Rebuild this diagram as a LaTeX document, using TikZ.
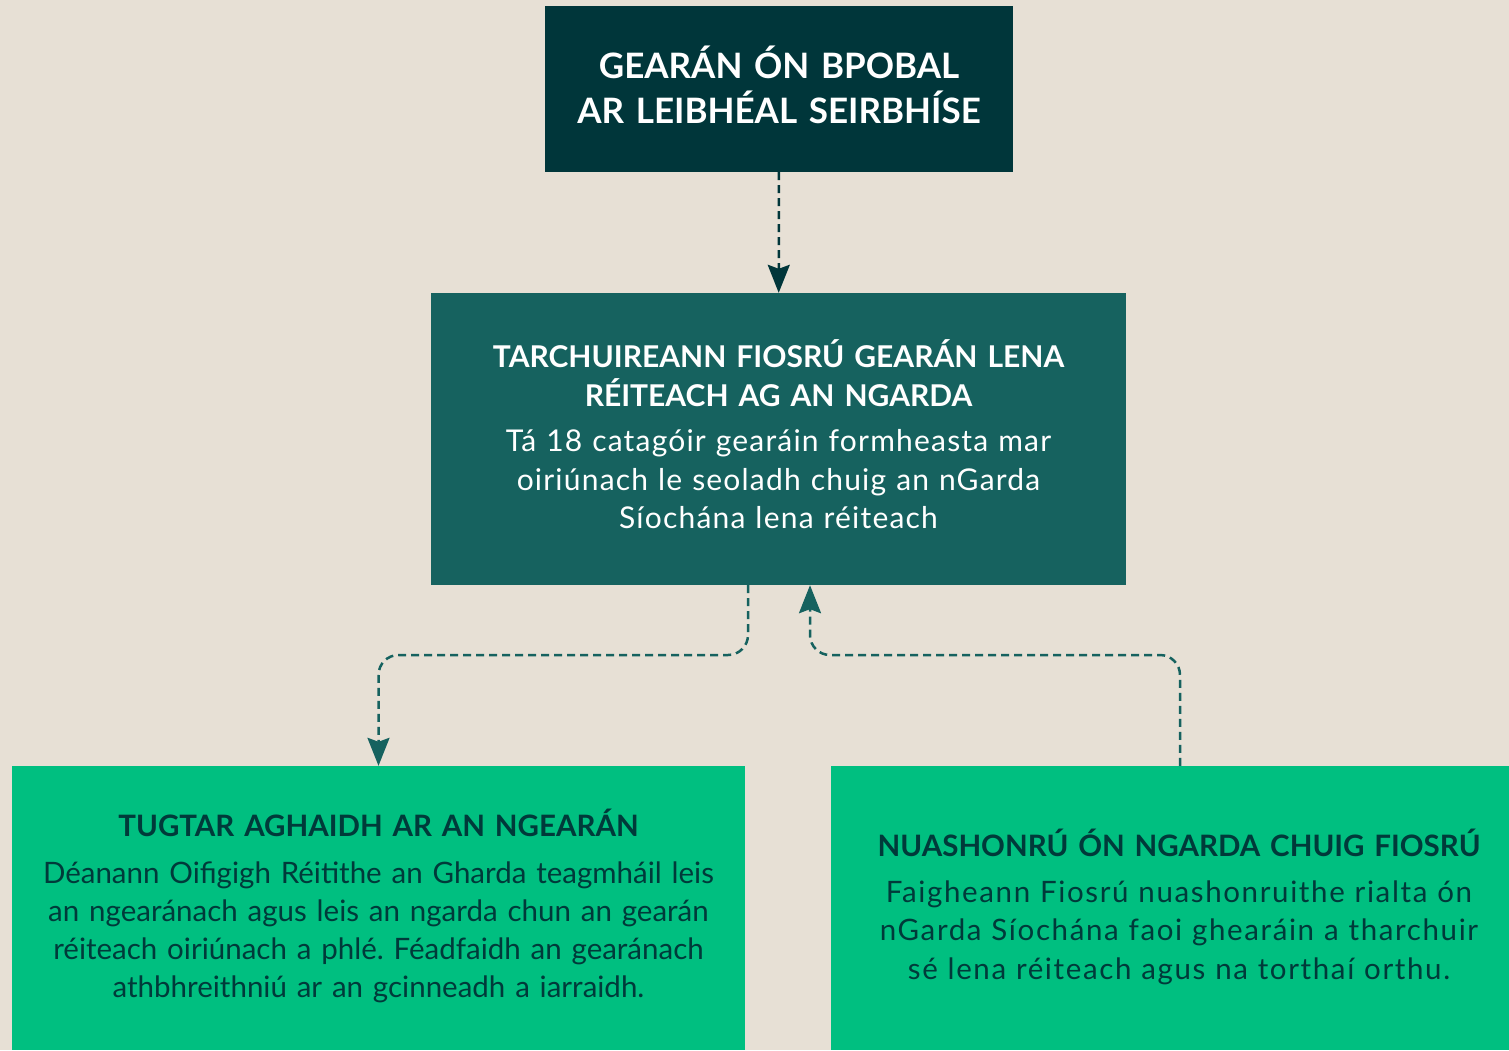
\documentclass[tikz,border=0pt]{standalone}
\usepackage{fontspec}
\setmainfont{Lato}
\usetikzlibrary{arrows.meta}

\definecolor{paper}{HTML}{E7E0D5}
\definecolor{deepteal}{HTML}{00363A}
\definecolor{midteal}{HTML}{16625F}
\definecolor{leafgreen}{HTML}{00BF80}
\definecolor{inkteal}{HTML}{003A3A}

\newcommand{\widebody}[1][4]{\addfontfeatures{LetterSpace=#1}}

\tikzset{
    box/.style={rectangle, inner sep=0pt, align=center},
    link/.style={line width=2.5pt, dash pattern=on 8pt off 5pt,
        -{Stealth[inset=4pt, width=22pt, length=28pt]}},
}

\begin{document}
\frenchspacing
\begin{tikzpicture}[x=1pt, y=-1pt]
        \fill[paper] (0,0) rectangle (1509,1050);
        \useasboundingbox (0,0) rectangle (1509,1050);

        \node[box, fill=deepteal, text=white, minimum width=468pt, minimum height=166pt,
            text width=460pt, font=\fontsize{35}{45}\selectfont\bfseries]
            (top) at (779,89) {GEARÁN ÓN BPOBAL\\AR LEIBHÉAL SEIRBHÍSE\par\vspace{9pt}};

        \node[box, fill=midteal, text=white, minimum width=695pt, minimum height=292pt,
            text width=680pt, font=\fontsize{30}{38.5}\selectfont]
            (mid) at (778.5,439) {{\bfseries TARCHUIREANN FIOSRÚ GEARÁN LENA\\RÉITEACH AG AN NGARDA}\\[7pt]
            {\widebody Tá 18 catagóir gearáin formheasta mar\\oiriúnach le seoladh chuig an nGarda\\Síochána lena réiteach}\par\vspace{9pt}};

        \node[box, fill=leafgreen, text=inkteal, minimum width=733pt, minimum height=284pt,
            text width=720pt, font=\fontsize{29.5}{38}\selectfont]
            (left) at (378.5,908) {{\bfseries TUGTAR AGHAIDH AR AN NGEARÁN}\\[9pt]
            Déanann Oifigigh Réitithe an Gharda teagmháil leis\\an ngearánach agus leis an ngarda chun an gearán\\réiteach oiriúnach a phlé. Féadfaidh an gearánach\\athbhreithniú ar an gcinneadh a iarraidh.\par\vspace{4pt}};

        % right box runs past the page edge
        \node[box, fill=leafgreen, text=inkteal, minimum width=696pt, minimum height=284pt,
            text width=680pt, font=\fontsize{29.5}{38.5}\selectfont]
            (right) at (1179,908) {{\bfseries NUASHONRÚ ÓN NGARDA CHUIG FIOSRÚ}\\[7pt]
            {\widebody[5.5] Faigheann Fiosrú nuashonruithe rialta ón\\nGarda Síochána faoi ghearáin a tharchuir\\sé lena réiteach agus na torthaí orthu.}\par\vspace{2pt}};

        \coordinate (fork) at (748,655);
        \coordinate (rise) at (1180,655);
        \coordinate (join) at (810,655);

        \draw[link, deepteal] (top) -- (mid);
        \draw[link, midteal, rounded corners=20pt] (fork |- mid.south) -- (fork) -- (fork -| left) -- (left.north);
        \draw[link, midteal, rounded corners=20pt] (rise |- right.north) -- (rise) -- (join) -- (join |- mid.south);
    \end{tikzpicture}
\end{document}
